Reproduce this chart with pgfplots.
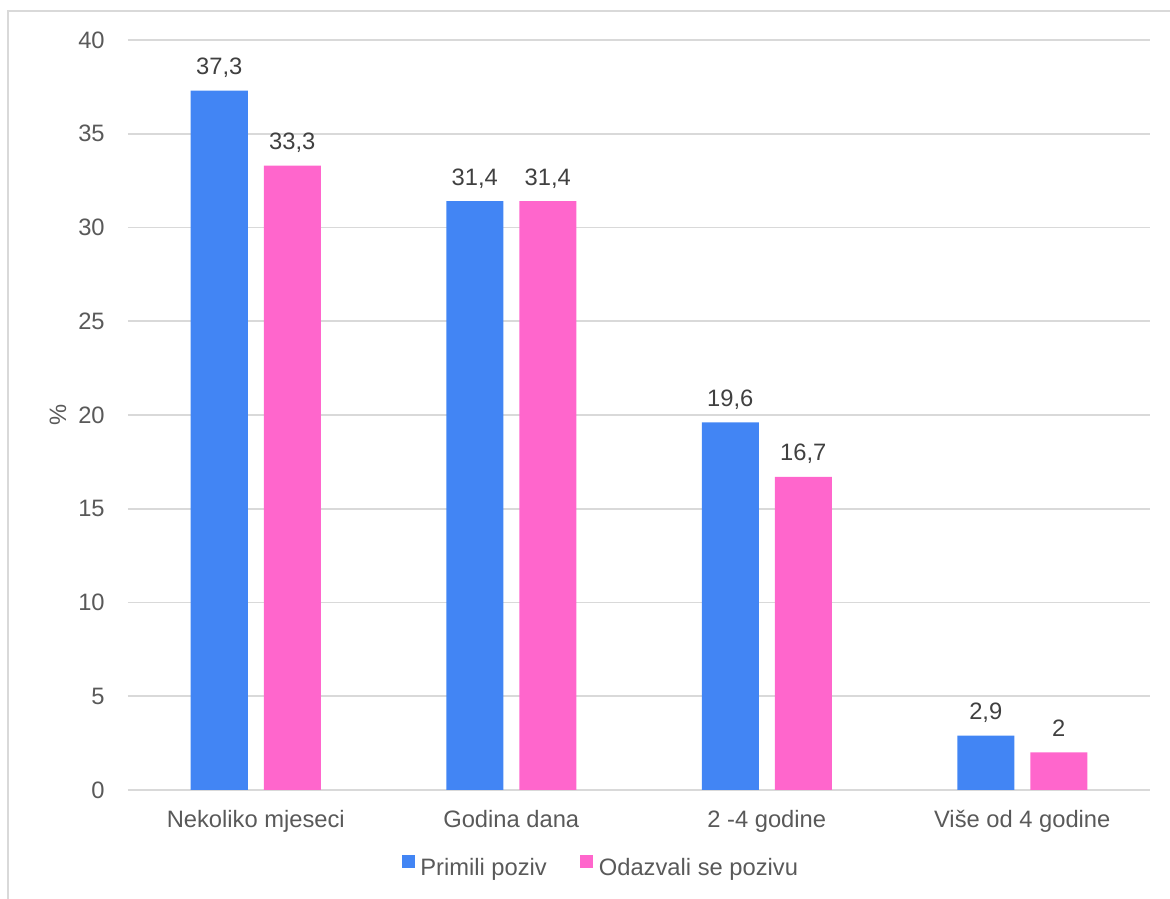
\documentclass[border=0pt]{standalone}
\usepackage{pgfplots}
\pgfplotsset{compat=1.18}
\usepackage{fontspec}
\setmainfont{Liberation Sans}
\definecolor{cblue}{HTML}{4285F4}
\definecolor{cpink}{HTML}{FF66CC}
\definecolor{cgrid}{HTML}{D9D9D9}
\definecolor{ctick}{HTML}{595959}
\definecolor{clab}{HTML}{404040}
\newcommand{\lblfont}{\fontsize{13.5}{16}\selectfont}
\begin{document}
\begin{tikzpicture}
\useasboundingbox (0,0) rectangle (234mm,179.8mm);
\draw[cgrid, line width=0.3mm] (1.6mm,-1mm) -- (1.6mm,177.6mm) -- (235mm,177.6mm);
\begin{axis}[
  at={(25.6mm,21.8mm)}, anchor=south west,
  scale only axis, width=204.4mm, height=150mm,
  xmin=-0.5, xmax=3.5, ymin=0, ymax=40,
  ytick={0,5,...,40},
  xtick={0,1,2,3},
  xticklabels={Nekoliko mjeseci, Godina dana, 2 -4 godine, Više od 4 godine},
  ybar=3.2mm, bar width=11.4mm,
  axis line style={draw=none},
  major tick length=0pt, tick style={draw=none},
  ymajorgrids, grid style={cgrid, line width=0.35mm},
  ticklabel style={font=\lblfont, text=ctick, inner sep=0pt},
  yticklabel style={xshift=-4.6mm},
  xticklabel style={anchor=north, yshift=-4mm},
  /pgf/number format/use comma,
  /pgf/number format/assume math mode=true,
  nodes near coords,
  every node near coord/.append style={font=\lblfont, text=clab, anchor=base, inner sep=0pt, yshift=3.2mm},
  ylabel={\%},
  ylabel style={at={(axis description cs:-0.0685,0.5)}, anchor=center, font=\lblfont, text=ctick},
  legend columns=2,
  legend style={at={(axis description cs:0.463,-0.104)}, anchor=center, draw=none, fill=none,
    font=\lblfont, text=ctick, /tikz/every even column/.append style={column sep=6.2mm},
    nodes={inner sep=0.5mm}},
  legend image code/.code={\fill[#1] (0mm,0mm) rectangle (2.6mm,2.6mm); \path (3.2mm,0mm);},
]
\addplot[fill=cblue, draw=none] coordinates {(0,37.3) (1,31.4) (2,19.6) (3,2.9)};
\addlegendentry{Primili poziv}
\addplot[fill=cpink, draw=none] coordinates {(0,33.3) (1,31.4) (2,16.7) (3,2)};
\addlegendentry{Odazvali se pozivu}
\end{axis}
\end{tikzpicture}
\end{document}
